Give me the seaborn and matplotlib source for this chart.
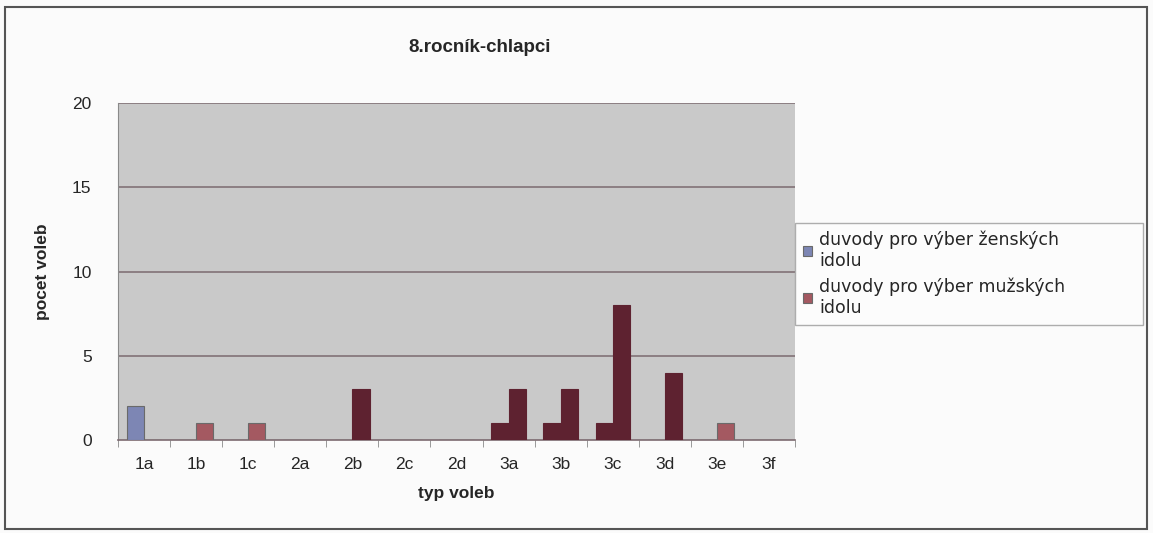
import numpy as np
import pandas as pd
import seaborn as sns
import matplotlib.pyplot as plt
from matplotlib.patches import Rectangle

# data
categories = ['1a', '1b', '1c', '2a', '2b', '2c', '2d', '3a', '3b', '3c', '3d', '3e', '3f']
zenske = [2, 0, 0, 0, 0, 0, 0, 1, 1, 1, 0, 0, 0]
muzske = [0, 1, 1, 0, 3, 0, 0, 3, 3, 8, 4, 1, 0]
series_names = ['duvody pro výber ženských\nidolu', 'duvody pro výber mužských\nidolu']
# categories where the scan shows the bars darkened
dark_cats = ['2b', '3a', '3b', '3c', '3d']

df = pd.DataFrame({
    'typ': categories * 2,
    'pocet': zenske + muzske,
    'serie': [series_names[0]] * len(categories) + [series_names[1]] * len(categories),
})

sns.set_style('white')
plt.rcParams['font.family'] = ['Liberation Sans', 'DejaVu Sans']

fig = plt.figure(figsize=(11.53, 5.33), dpi=100)
fig.patch.set_facecolor('#fbfbfb')
ax = fig.add_axes([118 / 1153, 1 - 440 / 533, (795 - 118) / 1153, (440 - 103) / 533])

pal = {series_names[0]: '#7480bd', series_names[1]: '#b04c58'}
sns.barplot(data=df, x='typ', y='pocet', hue='serie', palette=pal, width=0.66,
            edgecolor='#6a6a6a', linewidth=0.8, ax=ax, zorder=3)

# recolour the darkened bars as they appear in the scan
n = len(categories)
for i, p in enumerate(ax.patches[:2 * n]):
    cat = categories[i % n]
    if cat in dark_cats and p.get_height() > 0:
        p.set_facecolor('#5e2230')
        p.set_edgecolor('#5e2230')

ax.set_facecolor('#c9c9c9')
ax.set_ylim(0, 20)
ax.set_yticks([0, 5, 10, 15, 20])
ax.set_xlim(-0.5, n - 0.5)
for y in [5, 10, 15, 20]:
    ax.axhline(y, color='#7c6a70', linewidth=1.1, zorder=1)
for s in ['top', 'right']:
    ax.spines[s].set_visible(False)
ax.spines['left'].set_color('#8a8a8a')
ax.spines['bottom'].set_color('#7c6a70')
ax.spines['bottom'].set_linewidth(1.2)

# excel style ticks between the categories
ax.set_xticks(np.arange(n))
ax.set_xticklabels(categories)
ax.set_xticks(np.arange(n + 1) - 0.5, minor=True)
ax.tick_params(axis='x', which='major', length=0, pad=12, labelsize=12.5)
ax.tick_params(axis='x', which='minor', length=5, color='#8a8a8a', direction='out')
ax.tick_params(axis='y', length=5, color='#8a8a8a', direction='out', pad=14, labelsize=12.5)
ax.xaxis.set_tick_params(bottom=True, which='both')

ax.set_xlabel('typ voleb', fontsize=12.5, fontweight='bold', labelpad=10)
ax.set_ylabel('pocet voleb', fontsize=12.5, fontweight='bold', labelpad=16)

leg = ax.legend(loc='center left', bbox_to_anchor=(1.0, 0.341, 348 / 677, 0.306),
                mode='expand', prop={'family': 'DejaVu Sans', 'size': 12.5},
                frameon=True, fancybox=False, edgecolor='#9a9a9a',
                handlelength=0.55, handleheight=0.55, handletextpad=0.4,
                borderpad=0.45, labelspacing=0.45, borderaxespad=0)
leg.get_frame().set_linewidth(1.0)
leg.get_frame().set_facecolor('#fdfdfd')

fig.text(480 / 1153, 1 - 48 / 533, '8.rocník-chlapci', ha='center', va='center',
         fontsize=13.5, fontweight='bold')

# outer chart border
fig.patches.append(Rectangle((5 / 1153, 4 / 533), 1142 / 1153, 522 / 533,
                             transform=fig.transFigure, fill=False,
                             edgecolor='#555555', linewidth=1.5))

fig.savefig('out.png', dpi=100)
